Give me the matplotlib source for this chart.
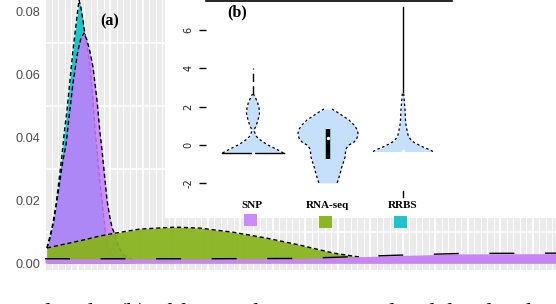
import numpy as np
import matplotlib
matplotlib.use("Agg")
import matplotlib.pyplot as plt
from matplotlib.patches import Rectangle
from matplotlib.ticker import MultipleLocator, FixedLocator
import matplotlib.transforms as mtrans

# ---------------- data: panel (a) densities ----------------
rrbs_x = [0.2, 0.7, 1.1, 1.4, 1.7, 1.9, 2.2, 2.5, 2.8, 3.1, 3.4, 3.6, 3.8, 4.0, 4.3, 4.5,
          4.8, 5.0, 5.2, 5.5, 5.8, 6.0, 6.3, 6.7, 7.5, 8.5]
rrbs_y = [0.0048, 0.0111, 0.0184, 0.0263, 0.0343, 0.0406, 0.0486, 0.0581, 0.0676, 0.0756,
          0.0835, 0.0810, 0.0771, 0.0724, 0.0670, 0.0622, 0.0517, 0.0422, 0.0359, 0.0254,
          0.0168, 0.0111, 0.0057, 0.0025, 0.0010, 0.0006]

snp_x = [0.2, 0.5, 0.9, 1.2, 1.5, 1.8, 2.1, 2.4, 2.8, 3.3, 3.6, 3.9, 4.2, 4.5, 4.8, 5.2,
         5.5, 5.7, 6.0, 6.2, 6.5, 6.7, 7.0, 7.3, 7.7, 8.3, 9.0]
snp_y = [0.0048, 0.0079, 0.0137, 0.0200, 0.0263, 0.0327, 0.0375, 0.0463, 0.0571, 0.0676,
         0.0714, 0.0730, 0.0708, 0.0670, 0.0622, 0.0517, 0.0413, 0.0359, 0.0263, 0.0200,
         0.0143, 0.0114, 0.0089, 0.0057, 0.0032, 0.0016, 0.0010]

rna_x = [0.2, 1.5, 3.8, 5.5, 7.0, 9.5, 11.2, 13.0, 15.5, 18.8, 22.2, 25.5, 28.8, 30.2,
         31.5, 33.5, 37.5, 51.1]
rna_y = [0.0048, 0.0057, 0.0073, 0.0086, 0.0095, 0.0108, 0.0111, 0.0114, 0.0111, 0.0098,
         0.0079, 0.0057, 0.0032, 0.0025, 0.0019, 0.0016, 0.0013, 0.0012]

# long SNP tail along the bottom
tail_x = [0.0, 15.5, 25.5, 30.5, 35.5, 41.5, 51.1]
tail_y = [0.0013, 0.0013, 0.0014, 0.0019, 0.0024, 0.0029, 0.0030]

y_ticks = [0.00, 0.02, 0.04, 0.06, 0.08]

# ---------------- data: panel (b) violins ----------------
categories = ["SNP", "RNA-seq", "RRBS"]
snp_v_val = [-0.417, -0.26, -0.104, 0.0, 0.156, 0.3125, 0.469, 0.677, 0.781, 0.99, 1.30,
             1.667, 1.927, 2.24, 2.5, 2.656]
snp_v_hw = [0.407, 0.333, 0.253, 0.2, 0.133, 0.08, 0.04, 0.02, 0.013, 0.04, 0.067, 0.087,
            0.08, 0.06, 0.027, 0.007]
rna_v_val = [1.875, 1.719, 1.510, 1.302, 1.042, 0.781, 0.573, 0.365, 0.156, 0.0, -0.156,
             -0.365, -0.625, -0.885, -1.198, -1.510, -1.771, -1.979]
rna_v_hw = [0.053, 0.12, 0.2, 0.28, 0.347, 0.393, 0.4, 0.387, 0.347, 0.28, 0.247, 0.233,
            0.227, 0.207, 0.18, 0.16, 0.14, 0.12]
rrbs_v_val = [-0.339, -0.208, -0.104, 0.0, 0.104, 0.208, 0.365, 0.521, 0.781, 1.042, 1.302,
              1.823, 2.344, 2.76]
rrbs_v_hw = [0.4, 0.333, 0.267, 0.213, 0.16, 0.12, 0.087, 0.067, 0.053, 0.04, 0.033, 0.027,
             0.016, 0.007]
medians = [-0.40, 0.36, -0.31]
rna_box = [-0.73, 0.83]
snp_whisker = [2.66, 4.0]
rrbs_whisker_hi = [2.76, 7.2]
rrbs_whisker_lo = [-2.4, -2.7]
b_ticks = [-2, 0, 2, 4, 6]

# ---------------- figure ----------------
W, H = 556, 304
fig = plt.figure(figsize=(W / 100, H / 100), dpi=100)
plt.rcParams['font.family'] = ['Liberation Sans', 'DejaVu Sans']

def fx(px):
    return px / W

def fy(py):
    return 1 - py / H

# panel (a) axes: y from -0.0022 (px 270) up, 3150 px per unit
y_lo, y_hi = -0.0022, 0.09
ax_bottom_px = 270
ax_top_px = ax_bottom_px - (y_hi - y_lo) * 3150
ax = fig.add_axes([fx(45), fy(ax_bottom_px), fx(556) - fx(45) + 0.01,
                   fy(ax_top_px) - fy(ax_bottom_px)])
ax.set_facecolor('#EBEBEB')
ax.set_xlim(0, 51.1 + 0.01 * W / 10)
ax.set_ylim(y_lo, y_hi)
for s in ax.spines.values():
    s.set_visible(False)

# grid
ax.xaxis.set_minor_locator(MultipleLocator(0.65))
ax.xaxis.set_major_locator(MultipleLocator(3.25))
ax.yaxis.set_minor_locator(FixedLocator([0.01, 0.03, 0.05, 0.07]))
ax.yaxis.set_major_locator(FixedLocator(y_ticks))
ax.grid(which='minor', axis='x', color='white', lw=0.7)
ax.grid(which='major', axis='x', color='white', lw=1.3)
ax.grid(which='minor', axis='y', color='white', lw=1.2)
ax.set_axisbelow(True)
ax.tick_params(axis='x', which='both', length=0, labelbottom=False)
ax.tick_params(axis='y', which='both', length=0, pad=3.5, labelsize=9.2, labelcolor='#4D4D4D')
ax.set_yticklabels([f"{v:.2f}" for v in y_ticks])

cyan = '#20C5CA'
purple = '#C77CFF'
green = '#86B31A'
dash = dict(color='black', lw=1.0, dashes=(3, 2))

ax.fill_between(rrbs_x, 0, rrbs_y, color=cyan, lw=0, zorder=2)
ax.plot(rrbs_x, rrbs_y, zorder=2.1, **dash)
ax.fill_between(snp_x, 0, snp_y, color=purple, alpha=0.85, lw=0, zorder=3)
ax.plot(snp_x, snp_y, zorder=3.1, **dash)
ax.fill_between(rna_x, 0, rna_y, color=green, alpha=0.92, lw=0, zorder=4)
ax.plot(rna_x[:-3], rna_y[:-3], zorder=4.1, **dash)
ax.fill_between(tail_x, 0, tail_y, color='#C884F8', lw=0, zorder=5)
ax.plot(tail_x, np.array(tail_y) * 1.05, color='black', lw=1.0, dashes=(18, 22), zorder=5.1)

# white inset area
fig.patches.append(Rectangle((fx(165), fy(218)), 1 - fx(165), 1 - fy(218) + 0.01,
                             transform=fig.transFigure, facecolor='white',
                             edgecolor='none', zorder=1))

# panel (b) axes
bx_l, bx_r, by_t, by_b = 206, 452, 0.6, 230
axb = fig.add_axes([fx(bx_l), fy(by_b), fx(bx_r) - fx(bx_l), fy(by_t) - fy(by_b)])
axb.set_zorder(2)
axb.patch.set_visible(False)
axb.set_xlim(1 - 47 / 75, 3 + 49 / 75)
axb.set_ylim((145 - by_b) / 19.2, (145 - by_t) / 19.2)
for k, s in axb.spines.items():
    s.set_visible(k == 'top')
axb.spines['top'].set_linewidth(1.2)
axb.set_xticks([])
axb.set_yticks(b_ticks)
axb.set_yticklabels([str(t) for t in b_ticks], rotation=90, va='center',
                    family='DejaVu Sans')
axb.tick_params(axis='y', length=5, width=1, pad=4, labelsize=7, labelcolor='#222222')

vfill = '#C6DFFB'
vdash = dict(color='black', lw=0.9, dashes=(2, 2))
violins = [(snp_v_val, snp_v_hw), (rna_v_val, rna_v_hw), (rrbs_v_val, rrbs_v_hw)]
for i, (vals, hws) in enumerate(violins):
    c = i + 1
    vals = np.array(vals)
    hws = np.array(hws)
    axb.fill_betweenx(vals, c - hws, c + hws, color=vfill, lw=0, zorder=2)
    axb.plot(c - hws, vals, zorder=3, **vdash)
    axb.plot(c + hws, vals, zorder=3, **vdash)

# SNP flat bottom line
axb.plot([1 - snp_v_hw[0], 1 + snp_v_hw[0]], [snp_v_val[0]] * 2, color='black', lw=1, zorder=3)
# whiskers and box
axb.plot([1, 1], snp_whisker, color='black', lw=1, dashes=(6, 3), zorder=3)
axb.plot([3, 3], rrbs_whisker_hi, color='black', lw=1, zorder=3)
axb.plot([3, 3], rrbs_whisker_lo, color='black', lw=1, zorder=3)
axb.plot([2, 2], rna_box, color='black', lw=3.2, solid_capstyle='butt', zorder=4)
axb.scatter([1, 2, 3], medians, s=6, color='white', zorder=5, lw=0)

# legend under panel (b)
blend = mtrans.blended_transform_factory(axb.transData, axb.transAxes)
leg_cols = ['#CC8BF8', '#8DB624', '#22C3C8']
def fr(py):
    return (by_b - py) / (by_b - by_t)
for i, (lab, col) in enumerate(zip(categories, leg_cols)):
    c = i + 1
    axb.text(c - 0.01, fr(206), lab, transform=blend, ha='center', va='center',
             fontsize=8, fontweight='bold', family='Liberation Serif', color='black')
    top = 214 if i == 0 else 216
    axb.add_patch(Rectangle((c - 0.03 - 0.087, fr(top + 12)), 0.173, fr(top) - fr(top + 12),
                            transform=blend, facecolor=col, edgecolor='none',
                            clip_on=False, zorder=3))

# panel labels
fig.text(fx(110), fy(21), '(a)', ha='center', va='center', fontsize=11.5,
         fontweight='bold', family='Liberation Serif')
fig.text(fx(237), fy(12.5), '(b)', ha='center', va='center', fontsize=11.5,
         fontweight='bold', family='Liberation Serif')

# caption line below the figure, only the top of it shows (as in the reference)
fig.text(fx(15), fy(319), 'violin plot (b) of four multi-omics simulated data levels',
         ha='left', va='baseline', fontsize=17, family='Liberation Serif')

fig.savefig('out.png', dpi=100)
